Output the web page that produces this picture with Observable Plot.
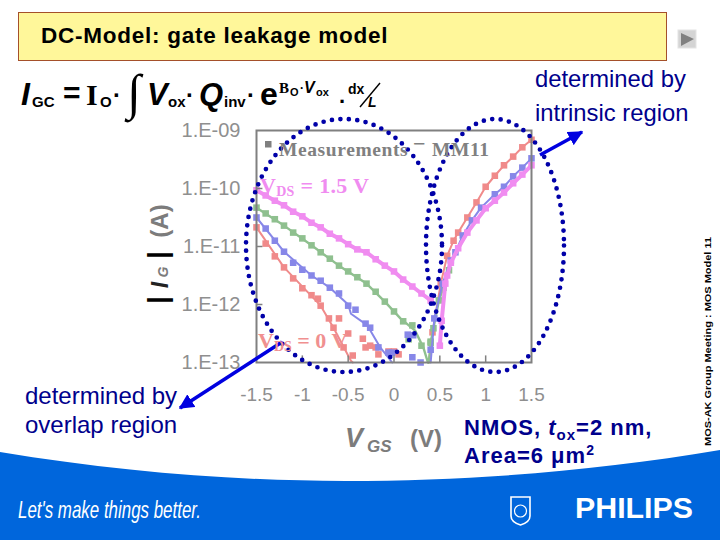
<!DOCTYPE html>
<html><head><meta charset="utf-8">
<script src="https://cdn.jsdelivr.net/npm/d3@7"></script>
<script src="https://cdn.jsdelivr.net/npm/@observablehq/plot@0.6"></script>
<style>
html,body{margin:0;padding:0;background:#fff}
#slide{position:relative;width:720px;height:540px;overflow:hidden;font-family:"Liberation Sans",Arial,sans-serif}
#slide>svg{position:absolute;left:0;top:0}
</style></head><body><div id="slide">
<svg id="back" width="720" height="540">
  <path d="M0 452 C120 472 240 481 345 481 C480 481 600 470 720 450 L720 540 L0 540 Z" fill="#0066dc"/>
  <rect x="18.5" y="12.5" width="648" height="48" fill="#fff79a" stroke="#a5502a" stroke-width="1"/>
  <rect x="678" y="30" width="18" height="18" fill="#d4d4d4" stroke="#e4e4e4"/>
  <path d="M681 33 L694 39 L681 46 Z" fill="#808080"/>
  <path d="M511 497 H530 V516 Q530 522 520.5 525 Q511 522 511 516 Z" fill="none" stroke="#fff" stroke-width="1.6"/>
  <circle cx="520.5" cy="511" r="6" fill="none" stroke="#fff" stroke-width="1.2"/>
</svg>
<div id="chart"></div>
<svg id="front" width="720" height="540" font-family="'Liberation Sans',Arial,sans-serif">
  <defs>
    <marker id="ah" viewBox="0 0 10 10" refX="9" refY="5" markerWidth="4.2" markerHeight="4.2" orient="auto"><path d="M0 0 L10 5 L0 10 Z" fill="#0000e0"/></marker>
  </defs>
  <ellipse cx="344" cy="245.5" rx="98" ry="126.5" fill="none" stroke="#0000a8" stroke-width="4.7" stroke-linecap="round" stroke-dasharray="0 8.5"/>
  <ellipse cx="495" cy="245.5" rx="69" ry="126.5" fill="none" stroke="#0000a8" stroke-width="4.7" stroke-linecap="round" stroke-dasharray="0 8.5"/>
  <line x1="282" y1="342" x2="180" y2="408" stroke="#0000e0" stroke-width="3.6" marker-end="url(#ah)"/>
  <line x1="540" y1="155" x2="582" y2="132" stroke="#0000e0" stroke-width="3.6" marker-end="url(#ah)"/>

  <text x="41" y="43" font-size="22.5" font-weight="700" fill="#000" letter-spacing=".75">DC-Model: gate leakage model</text>

  <g fill="#000" font-weight="700">
    <text x="21" y="105" font-size="32" font-style="italic">I</text>
    <text x="32" y="107" font-size="15">GC</text>
    <text x="63" y="103" font-size="30">=</text>
    <text x="86" y="105" font-size="30" font-family="'Liberation Serif',serif">I</text>
    <text x="100" y="107" font-size="15">O</text>
    <text x="113" y="103" font-size="24">·</text>
    <text x="127" y="109" font-size="50" font-family="'Liberation Serif',serif">∫</text>
    <text x="147" y="105" font-size="31" font-style="italic">V</text>
    <text x="168" y="107" font-size="15">ox</text>
    <text x="186" y="103" font-size="24">·</text>
    <text x="199" y="105" font-size="31" font-style="italic">Q</text>
    <text x="224" y="107" font-size="15">inv</text>
    <text x="247" y="103" font-size="24">·</text>
    <text x="260" y="105" font-size="32">e</text>
    <text x="279" y="93" font-size="15" font-family="'Liberation Serif',serif">B</text>
    <text x="290" y="96" font-size="11">O</text>
    <text x="300" y="92" font-size="12">·</text>
    <text x="304" y="93" font-size="16" font-style="italic">V</text>
    <text x="316" y="96" font-size="11">ox</text>
    <text x="339" y="103" font-size="22">.</text>
    <text x="348" y="94" font-size="14">dx</text>
    <text x="368" y="107" font-size="14" font-style="italic">L</text>
  </g>
  <line x1="360" y1="107" x2="380" y2="83" stroke="#000" stroke-width="1.4"/>

  <g fill="#00008c">
    <text x="535" y="87" font-size="23.8">determined by</text>
    <text x="535" y="121" font-size="23.8">intrinsic region</text>
    <text x="25" y="404" font-size="24">determined by</text>
    <text x="25" y="433" font-size="24">overlap region</text>
    <text x="464" y="435" font-size="22" font-weight="700" letter-spacing="1">NMOS, <tspan font-style="italic">t</tspan><tspan font-size="15" dy="5">ox</tspan><tspan dy="-5">=2 nm,</tspan></text>
    <text x="464" y="463" font-size="22" font-weight="700" letter-spacing="1">Area=6 μm<tspan font-size="14" dy="-8">2</tspan></text>
  </g>

  <rect x="265" y="141" width="6.5" height="6.5" fill="#808080"/>
  <g font-family="'Liberation Serif',serif" font-weight="700">
    <text x="279" y="156" font-size="19.5" fill="#808080" letter-spacing=".6">Measurements</text>
    <text x="413" y="151" font-size="22" fill="#808080">−</text>
    <text x="432" y="156" font-size="19.5" fill="#808080" letter-spacing=".6">MM11</text>
    <text x="260" y="193" font-size="22" fill="#f08cf0" letter-spacing=".3">V<tspan font-size="14" dy="3">DS</tspan><tspan dy="-3"> = 1.5 V</tspan></text>
    <text x="258" y="348" font-size="22" fill="#f09090">V<tspan font-size="14" dy="3">DS</tspan><tspan dy="-3"> = 0 V</tspan></text>
  </g>

  <g fill="#7c7c7c" font-weight="700">
    <text font-size="27" fill="#000" transform="translate(167,300) rotate(-90)" text-anchor="middle">|</text>
    <text font-size="27" fill="#000" transform="translate(167,255) rotate(-90)" text-anchor="middle">|</text>
    <text font-size="23" fill="#222" font-style="italic" transform="translate(168,285) rotate(-90)" text-anchor="middle">I</text>
    <text font-size="14" font-style="italic" transform="translate(168,272) rotate(-90)" text-anchor="middle">G</text>
    <text font-size="24" transform="translate(168,221) rotate(-90)" text-anchor="middle">(A)</text>
    <text x="345" y="447" font-size="27" font-style="italic">V</text>
    <text x="367" y="452" font-size="17" font-style="italic">GS</text>
    <text x="410" y="447" font-size="24">(V)</text>
  </g>

  <text font-size="9.5" font-weight="700" fill="#000" textLength="209" lengthAdjust="spacingAndGlyphs" transform="translate(711,446) rotate(-90)">MOS-AK Group Meeting : MOS Model 11</text>

  <text x="18" y="518" font-size="24" fill="#fff" font-style="italic" font-family="'Liberation Sans Narrow','Liberation Sans',sans-serif" textLength="183" lengthAdjust="spacingAndGlyphs">Let's make things better.</text>
  <text x="575" y="518" font-size="29" font-weight="700" fill="#fff" textLength="118" lengthAdjust="spacingAndGlyphs">PHILIPS</text>
</svg>
</div>
<script>
// VGS in volts, Ig as log10(amperes)
const xTicks = [-1.5, -1, -0.5, 0, 0.5, 1, 1.5];
const yTicks = [1e-13, 1e-12, 1e-11, 1e-10, 1e-9];
const yTickLabels = ["1.E-13", "1.E-12", "1.E-11", "1.E-10", "1.E-09"];

const magentaLeftX = [-1.5,-1.4,-1.3,-1.2,-1.1,-1,-0.9,-0.8,-0.7,-0.6,-0.5,-0.4,-0.3,-0.2,-0.1,0,0.1,0.2,0.3,0.4];
const magentaLeftY = [-10.03,-10.12,-10.21,-10.29,-10.40,-10.48,-10.59,-10.67,-10.78,-10.86,-10.96,-11.05,-11.10,-11.22,-11.33,-11.43,-11.57,-11.69,-11.81,-11.93];
const magentaRightX = [0.5,0.52,0.56,0.58,0.62,0.7,0.8,0.9,1,1.1,1.2,1.3,1.4,1.5];
const magentaRightY = [-12.71,-12.28,-11.64,-11.5,-11.28,-11.03,-10.76,-10.55,-10.34,-10.21,-10.07,-9.91,-9.76,-9.60];

const greenLeftX = [-1.5,-1.4,-1.3,-1.2,-1.1,-1,-0.9,-0.8,-0.7,-0.6,-0.5,-0.4,-0.3,-0.2,-0.1,0,0.1,0.16,0.2,0.3,0.4];
const greenLeftY = [-10.33,-10.43,-10.53,-10.64,-10.76,-10.86,-10.98,-11.10,-11.21,-11.33,-11.43,-11.53,-11.64,-11.78,-11.95,-12.12,-12.29,-12.60,-12.36,-12.71,-12.64];
const greenLineX = [-1.5,-1.2,-0.9,-0.6,-0.3,-0.1,0.07,0.23,0.32,0.37];
const greenLineY = [-10.33,-10.64,-10.98,-11.33,-11.64,-11.95,-12.24,-12.45,-12.74,-13];
const greenRightX = [0.4,0.43,0.49,0.54,0.6];
const greenRightY = [-12.66,-12.41,-11.93,-11.71,-11.41];

const blueLeftX = [-1.5,-1.4,-1.3,-1.2,-1.1,-1,-0.9,-0.8,-0.7,-0.6,-0.5,-0.42,-0.31,-0.26,-0.17,-0.06,-0.02,0.15,0.21,0.2,0.29,0.4];
const blueLeftY = [-10.5,-10.69,-10.9,-11.09,-11.28,-11.4,-11.5,-11.59,-11.71,-11.81,-12.02,-12.09,-12.33,-12.4,-12.74,-12.83,-12.83,-12.52,-12.53,-12.91,-13,-12.78];
const blueLineX = [-1.5,-1.2,-0.9,-0.7,-0.5,-0.47,-0.29,-0.15,-0.02];
const blueLineY = [-10.5,-11.09,-11.5,-11.71,-12,-12.16,-12.36,-12.74,-13];
const blueRightX = [0.44,0.53,0.62,0.67,0.75,0.85,0.95,1.1,1.2,1.3,1.4,1.5];
const blueRightY = [-12.24,-11.64,-11.24,-11.10,-10.81,-10.55,-10.33,-10.10,-9.97,-9.79,-9.64,-9.48];

const salmonLeftX = [-1.5,-1.4,-1.3,-1.2,-1.1,-1,-0.9,-0.83,-0.8,-0.71,-0.6,-0.66,-0.5,-0.55,-0.45,-0.34,-0.31,-0.26,-0.2,-0.17,-0.06,0,0.05];
const salmonLeftY = [-10.67,-10.95,-11.17,-11.36,-11.55,-11.72,-11.84,-11.90,-12.02,-12.24,-12.24,-12.40,-12.50,-12.74,-12.88,-12.59,-12.74,-12.71,-12.74,-12.86,-12.81,-12.81,-12.86];
const salmonLineX = [-1.5,-1.2,-0.8,-0.66,-0.47,-0.45];
const salmonLineY = [-10.67,-11.36,-12.02,-12.40,-12.97,-13];
const salmonRightX = [0.42,0.51,0.58,0.65,0.7,0.8,0.9,1,1.1,1.2,1.3,1.4,1.5];
const salmonRightY = [-12.48,-11.64,-11.16,-10.9,-10.76,-10.5,-10.24,-9.97,-9.78,-9.6,-9.45,-9.29,-9.16];

const colors = {salmon:"#f08a8a", blue:"#8787e8", green:"#8fc08f", magenta:"#f08cf0"};
const tbl = (xs, ys) => xs.map((x, i) => ({x, y: 10 ** ys[i]}));
const layer = (c, meas, lines, w) => [
  ...lines.map(l => Plot.line(l, {x:"x", y:"y", stroke:c, strokeWidth:w, curve:"linear"})),
  ...meas.map(m => Plot.dot(m, {x:"x", y:"y", symbol:"square", r:3.7, fill:c, stroke:"none"}))
];
const startLow = (x, xs, ys) => tbl([x, ...xs], [-13, ...ys]);

const plot = Plot.plot({
  width:720, height:540,
  marginLeft:256, marginRight:189, marginTop:130, marginBottom:178,
  style:{background:"transparent", overflow:"visible", fontFamily:"'Liberation Sans',Arial,sans-serif"},
  x:{domain:[-1.5,1.5]},
  y:{type:"log", domain:[1e-13,1e-9]},
  marks:[
    ...layer(colors.salmon, [tbl(salmonLeftX,salmonLeftY), tbl(salmonRightX,salmonRightY)],
      [tbl(salmonLineX,salmonLineY), startLow(0.38,salmonRightX,salmonRightY)], 2),
    ...layer(colors.green, [tbl(greenLeftX,greenLeftY), tbl(greenRightX,greenRightY)],
      [tbl(greenLineX,greenLineY), startLow(0.38,greenRightX,greenRightY)], 2.4),
    ...layer(colors.blue, [tbl(blueLeftX,blueLeftY), tbl(blueRightX,blueRightY)],
      [tbl(blueLineX,blueLineY), startLow(0.4,blueRightX,blueRightY)], 2),
    ...layer(colors.magenta, [tbl(magentaLeftX,magentaLeftY), tbl(magentaRightX,magentaRightY)],
      [tbl(magentaLeftX,magentaLeftY), tbl(magentaRightX,magentaRightY)], 4),
    Plot.ruleX(xTicks.slice(1,-1), {y1:1e-13, y2:1.3e-13, stroke:"#808080", strokeWidth:1.5}),
    Plot.ruleY(yTicks.slice(1,-1), {x1:-1.5, x2:-1.43, stroke:"#808080", strokeWidth:1.5}),
    Plot.frame({stroke:"#808080", strokeWidth:2}),
    Plot.axisX({ticks:xTicks, tickSize:0, tickPadding:25, tickFormat:String, fontSize:19, color:"#8f8f8f", label:null}),
    Plot.axisY({ticks:yTicks, tickSize:0, tickPadding:16, tickFormat:d=>yTickLabels[Math.round(Math.log10(d))+13], fontSize:20, color:"#8f8f8f", label:null})
  ]
});
document.getElementById("chart").appendChild(plot);
document.getElementById("slide").appendChild(document.getElementById("front"));
</script>
</body></html>
